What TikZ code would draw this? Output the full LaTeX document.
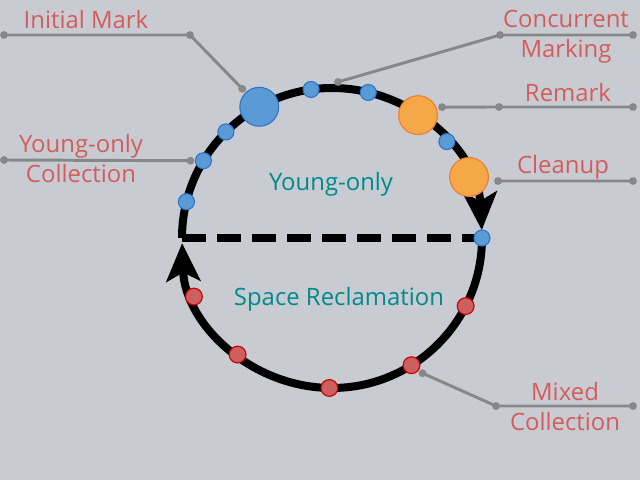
\documentclass[tikz,border=0pt]{standalone}
\usepackage{fontspec}
\setmainfont{Open Sans}
\usetikzlibrary{arrows.meta,calc}
\definecolor{bgcol}{RGB}{200,204,210}
\definecolor{bluefill}{RGB}{91,155,213}
\definecolor{blueline}{RGB}{46,117,200}
\definecolor{orangefill}{RGB}{244,168,72}
\definecolor{orangeline}{RGB}{237,125,49}
\definecolor{redfill}{RGB}{205,95,95}
\definecolor{redline}{RGB}{200,0,0}
\definecolor{labelred}{RGB}{212,92,92}
\definecolor{phaseteal}{RGB}{0,138,138}
\definecolor{leadgray}{RGB}{135,135,135}

\begin{document}
\begin{tikzpicture}[x=0.025cm,y=0.025cm,
    cycleline/.style={line width=0.2cm,black},
    bigtip/.style={-{Stealth[length=0.95cm,width=0.85cm,inset=0.22cm]}},
    smalldot/.style={circle,draw=blueline,fill=bluefill,line width=0.8pt,minimum size=0.4cm,inner sep=0pt},
    bigdot/.style={circle,draw=blueline,fill=bluefill,line width=0.8pt,minimum size=0.97cm,inner sep=0pt},
    orangedot/.style={bigdot,draw=orangeline,fill=orangefill},
    reddot/.style={smalldot,draw=redline,fill=redfill,minimum size=0.42cm},
    phase/.style={text=phaseteal,anchor=base,font=\fontsize{17}{22}\selectfont},
    label/.style={text=labelred,anchor=base,align=center,font=\fontsize{17}{22}\selectfont},
    leader/.style={leadgray,line width=2.1pt}]
    \useasboundingbox (0,0) rectangle (640,480);
    \fill[bgcol] (0,0) rectangle (640,480);
    \coordinate (c) at (332,242);
    \coordinate (west) at ($(c)+(180:150)$);
    \coordinate (east) at ($(c)+(0:150)$);
    % the cycle
    \draw[cycleline,bigtip] (west) arc[start angle=180,end angle=3,radius=150];
    \draw[cycleline,bigtip] (east) arc[start angle=360,end angle=182,radius=150];
    \draw[cycleline,dash pattern=on 0.6cm off 0.275cm] (west) -- (east);
    % young-only pauses
    \foreach \n/\a in {y1/166,y2/149,y3/135,y4/98,y5/76,y6/40,y7/0}
        \node[smalldot] (\n) at ($(c)+(\a:150)$) {};
    \node[bigdot] (im) at ($(c)+(119:150)$) {};
    \node[orangedot] (rm) at ($(c)+(55:150)$) {};
    \node[orangedot] (cu) at ($(c)+(24:150)$) {};
    % mixed pauses
    \foreach \n/\a in {m1/203,m2/231,m3/269,m4/302,m5/333}
        \node[reddot] (\n) at ($(c)+(\a:150)$) {};
    \node[phase] (yo) at (331,289) {Young-only};
    \node[phase] (sr) at (339,174) {Space Reclamation};
    % labels (base = last line)
    \node[label] (imlbl) at (86,451) {Initial Mark};
    \node[label] (cmlbl) at (566,422) {Concurrent\\Marking};
    \node[label] (rmlbl) at (568,378) {Remark};
    \node[label] (culbl) at (563,306) {Cleanup};
    \node[label] (yclbl) at (81,297) {Young-only\\Collection};
    \node[label] (mxlbl) at (565,49) {Mixed\\Collection};
    % leader lines
    \coordinate (imA) at (4,445);
    \coordinate (imB) at (190,445);
    \coordinate (imC) at ($(im)+(-17,18)$);
    \coordinate (cmA) at (633,445);
    \coordinate (cmB) at (500,445);
    \coordinate (cmC) at ($(c)+(6,156)$);
    \coordinate (rmA) at (633,373);
    \coordinate (rmB) at (499,373);
    \coordinate (rmC) at ($(rm)+(24,8)$);
    \coordinate (cuA) at (633,299);
    \coordinate (cuB) at ($(cu)+(29,-4)$);
    \coordinate (ycA) at (4,320);
    \coordinate (ycB) at ($(y2)+(-13,0)$);
    \coordinate (mxA) at (633,74);
    \coordinate (mxB) at (496,74);
    \coordinate (mxC) at ($(m4)+(11,-8)$);
    \draw[leader] (imA) -- (imB) -- (imC);
    \draw[leader] (cmA) -- (cmB) -- (cmC);
    \draw[leader] (rmA) -- (rmB) -- (rmC);
    \draw[leader] (cuA) -- (cuB);
    \draw[leader] (ycA) -- (ycB);
    \draw[leader] (mxA) -- (mxB) -- (mxC);
    \foreach \p in {imA,imB,imC,cmA,cmB,cmC,rmA,rmB,rmC,cuA,cuB,ycA,ycB,mxA,mxB,mxC}
        \fill[leadgray] (\p) circle (2.8pt);
\end{tikzpicture}
\end{document}
